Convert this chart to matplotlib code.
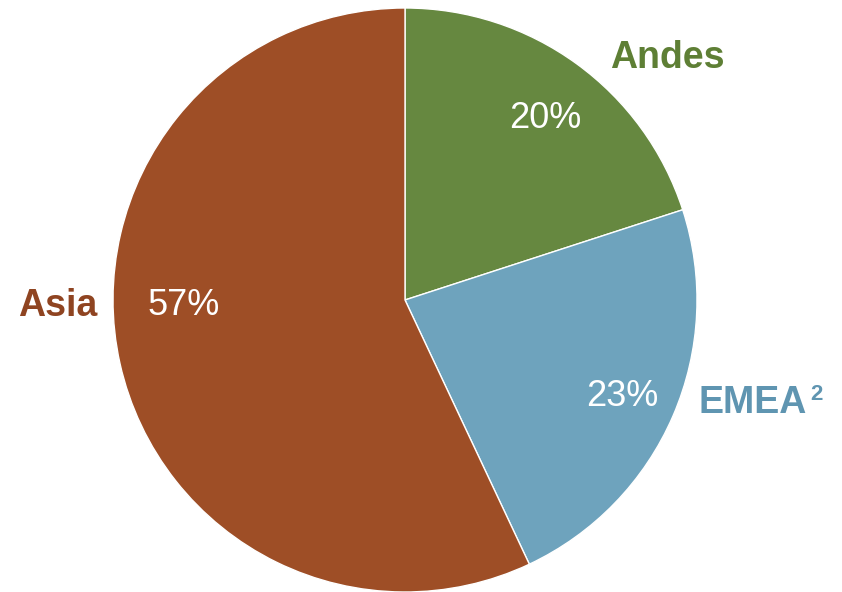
import matplotlib.pyplot as plt

regions = ["Andes", "EMEA", "Asia"]
shares = [20, 23, 57]
colors = ["#668840", "#6EA3BD", "#9E4E26"]
label_colors = ["#5E7F35", "#5F95B1", "#8F4421"]

# where each name and percentage goes, in pie units
name_pos = [(0.897, 0.83), (1.19, -0.353), (-1.19, -0.022)]
pct_pos = [(0.479, 0.622), (0.743, -0.33), (-0.757, -0.02)]

plt.rcParams['font.family'] = ['Liberation Sans', 'DejaVu Sans']

fig = plt.figure(figsize=(8.42, 5.92), dpi=100)
ax = fig.add_axes([0.1342, 0.0, 0.6936, 0.9865])
ax.pie(shares, colors=colors, startangle=90, counterclock=False, radius=1,
       wedgeprops=dict(edgecolor='white', linewidth=1))
ax.set_xlim(-1, 1)
ax.set_ylim(-1, 1)
ax.set_aspect('equal')
ax.axis('off')

for name, val, c, (nx, ny), (px, py) in zip(regions, shares, label_colors, name_pos, pct_pos):
    ax.text(nx, ny, name, color=c, fontsize=27, fontweight='bold',
            ha='center', va='center', clip_on=False)
    ax.text(px, py, f"{val}%", color='white', fontsize=26,
            ha='center', va='center')

# footnote marker on EMEA
ax.text(1.408, -0.322, "2", color=label_colors[1], fontsize=16, fontweight='bold',
        ha='center', va='center', clip_on=False)

fig.savefig('out.png', dpi=100)
